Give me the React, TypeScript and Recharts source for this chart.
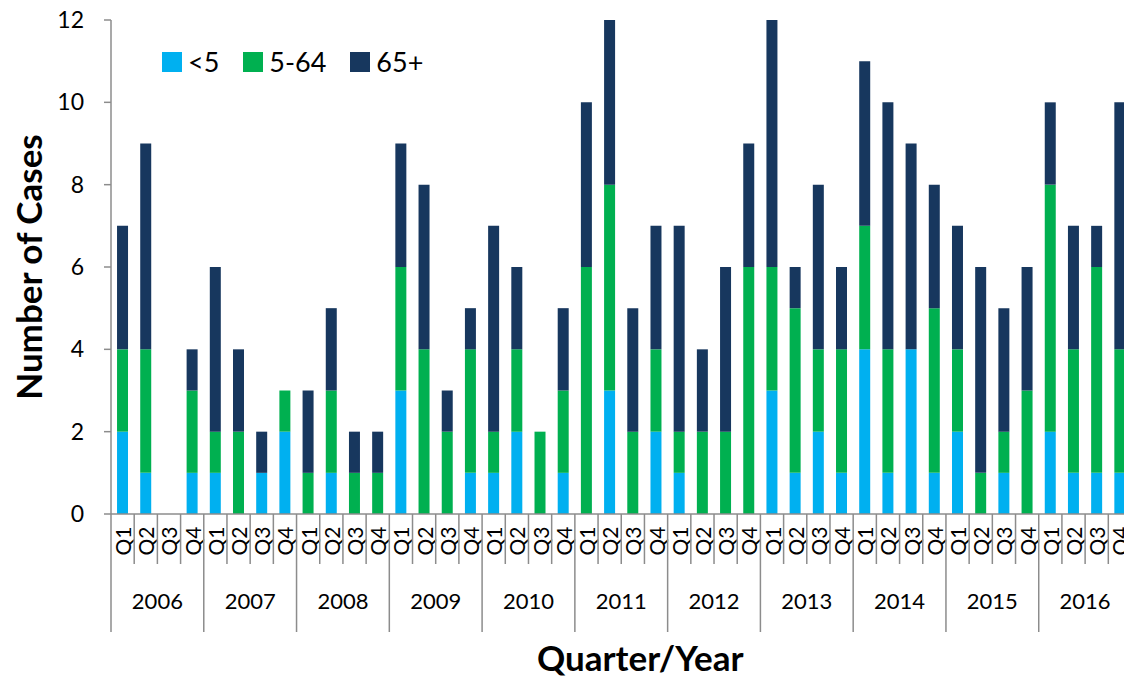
import { Bar, BarChart, Legend, XAxis, YAxis } from 'recharts'

const years = ['2006', '2007', '2008', '2009', '2010', '2011', '2012', '2013', '2014', '2015', '2016']
const quarters = ['Q1', 'Q2', 'Q3', 'Q4']

// one value per quarter, 2006 Q1 .. 2016 Q4
const under5 = [
  2, 1, 0, 1, 1, 0, 1, 2, 0, 1, 0, 0, 3, 0, 0, 1, 1, 2, 0, 1, 0, 3, 0, 2,
  1, 0, 0, 0, 3, 1, 2, 1, 4, 1, 4, 1, 2, 0, 1, 0, 2, 1, 1, 1,
]
const age5to64 = [
  2, 3, 0, 2, 1, 2, 0, 1, 1, 2, 1, 1, 3, 4, 2, 3, 1, 2, 2, 2, 6, 5, 2, 2,
  1, 2, 2, 6, 3, 4, 2, 3, 3, 3, 0, 4, 2, 1, 1, 3, 6, 3, 5, 3,
]
const age65plus = [
  3, 5, 0, 1, 4, 2, 1, 0, 2, 2, 1, 1, 3, 4, 1, 1, 5, 2, 0, 2, 4, 4, 3, 3,
  5, 2, 4, 3, 6, 1, 4, 2, 4, 6, 5, 3, 3, 5, 3, 3, 2, 3, 1, 6,
]
const yTicks = [0, 2, 4, 6, 8, 10, 12]

const series = [
  { key: 'under5', name: '<5', color: '#00B0F0' },
  { key: 'age5to64', name: '5-64', color: '#00B050' },
  { key: 'age65plus', name: '65+', color: '#17375E' },
]

const data = years.flatMap((year, yi) =>
  quarters.map((q, qi) => {
    const i = yi * 4 + qi
    return {
      key: `${year}-${q}`,
      under5: under5[i],
      age5to64: age5to64[i],
      age65plus: age65plus[i],
    }
  }),
)

const FONT = 'Lato, "Open Sans", sans-serif'
const AXIS = '#8C8C8C'
const W = 1140
const H = 679
const M = { top: 20, right: 8.5, bottom: 45, left: 0 }
const Y_W = 111
const BAND = (W - M.left - M.right - Y_W) / data.length

function QuarterTick(props: any) {
  const { x, y, payload } = props
  const [year, q] = String(payload.value).split('-')
  const half = payload.offset || BAND / 2
  const left = x - half
  const isFirst = q === 'Q1'
  const isLast = payload.index === data.length - 1
  return (
    <g>
      <line x1={left} y1={y} x2={left} y2={y + (isFirst ? 118 : 50)} stroke={AXIS} strokeWidth={1.5} />
      {isLast && <line x1={x + half} y1={y} x2={x + half} y2={y + 118} stroke={AXIS} strokeWidth={1.5} />}
      <text
        x={x}
        y={y + 27}
        transform={`rotate(-90 ${x} ${y + 27})`}
        textAnchor="middle"
        dominantBaseline="central"
        fontSize={21}
        fontFamily={FONT}
        fill="#000"
      >
        {q}
      </text>
      {isFirst && (
        <text
          x={left + half * 4}
          y={y + 86}
          textAnchor="middle"
          dominantBaseline="central"
          fontSize={22}
          fontFamily={FONT}
          fill="#000"
        >
          {year}
        </text>
      )}
    </g>
  )
}

function LegendBox() {
  return (
    <div style={{ display: 'flex', alignItems: 'center', fontFamily: FONT, fontSize: 27, color: '#000' }}>
      {series.map((s) => (
        <div key={s.key} style={{ display: 'flex', alignItems: 'center', marginRight: 24 }}>
          <span style={{ width: 20, height: 20, background: s.color, display: 'inline-block', marginRight: 6 }} />
          <span style={{ lineHeight: '26px' }}>{s.name}</span>
        </div>
      ))}
    </div>
  )
}

export default function App() {
  return (
    <div style={{ position: 'absolute', left: 0, top: 0, width: 1124, height: 679, overflow: 'hidden', background: '#fff' }}>
      <BarChart width={W} height={H} data={data} margin={M} barCategoryGap="26%">
        <XAxis
          dataKey="key"
          interval={0}
          height={120}
          tickLine={false}
          tickSize={0}
          tickMargin={0}
          axisLine={{ stroke: AXIS, strokeWidth: 1.5 }}
          tick={<QuarterTick />}
          label={{ value: 'Quarter/Year', position: 'bottom', offset: 12, dx: 19, fontSize: 35, fontWeight: 700, fontFamily: FONT, fill: '#000' }}
        />
        <YAxis
          width={Y_W}
          domain={[0, 12]}
          ticks={yTicks}
          interval={0}
          tickSize={7}
          tickMargin={20}
          tickLine={{ stroke: AXIS, strokeWidth: 1.5 }}
          axisLine={{ stroke: AXIS, strokeWidth: 1.5 }}
          tick={{ fontSize: 23, fontFamily: FONT, fill: '#000' }}
          label={{
            content: ({ viewBox }: any) => {
              const cx = viewBox.x + 28
              const cy = viewBox.y + viewBox.height / 2
              return (
                <text
                  x={cx}
                  y={cy}
                  transform={`rotate(-90 ${cx} ${cy})`}
                  textAnchor="middle"
                  dominantBaseline="central"
                  fontSize={35}
                  fontWeight={700}
                  fontFamily={FONT}
                  fill="#000"
                >
                  Number of Cases
                </text>
              )
            },
          }}
        />
        <Legend
          layout="horizontal"
          verticalAlign="middle"
          align="center"
          content={<LegendBox />}
          wrapperStyle={{ top: 49, left: 162, width: 'auto' }}
        />
        {series.map((s) => (
          <Bar key={s.key} dataKey={s.key} name={s.name} stackId="a" fill={s.color} isAnimationActive={false} />
        ))}
      </BarChart>
    </div>
  )
}
